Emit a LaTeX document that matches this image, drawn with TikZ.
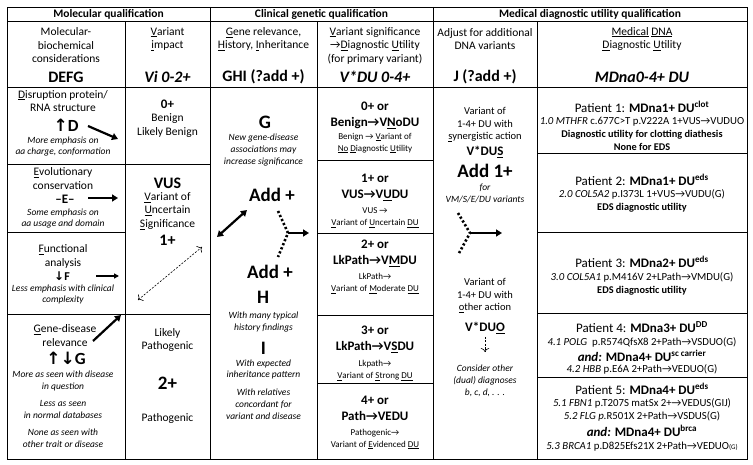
\documentclass[tikz,border=0pt]{standalone}
\usepackage{fontspec}
\setmainfont{Carlito}
\newfontfamily\symf{DejaVu Sans}
\usetikzlibrary{arrows.meta,positioning}
\newcommand\toar{→}
\newcommand\uparr{{\symf ↑}}
\newcommand\dnarr{{\symf ↓}}

\begin{document}
\begin{tikzpicture}[x=1pt,y=-1pt,
  every node/.style={inner sep=0pt,align=center},
  txt/.style={font=\fontsize{11.5}{13.5}\selectfont},
  mid/.style={font=\fontsize{10.5}{12.5}\selectfont},
  sm/.style={font=\fontsize{9.5}{11.8}\selectfont\itshape},
  smr/.style={font=\fontsize{9}{12}\selectfont},
  det/.style={font=\fontsize{10.8}{12}\selectfont},
  detb/.style={font=\fontsize{10.3}{12}\selectfont\bfseries},
  pat/.style={font=\fontsize{13}{15}\selectfont},
  big/.style={font=\fontsize{16}{18}\selectfont\bfseries},
  huge/.style={font=\fontsize{19}{21}\selectfont\bfseries},
  bold/.style={font=\fontsize{13}{16}\selectfont\bfseries},
  ttl/.style={font=\fontsize{11.5}{13.5}\selectfont\bfseries},
  tabline/.style={line width=0.7pt},
  fat/.style={line width=2.2pt,-{Triangle[length=6pt,width=7pt]}},
  dotline/.style={line width=2.6pt,dash pattern=on 2.2pt off 2.2pt},
  thindash/.style={line width=0.6pt,dash pattern=on 2pt off 1.5pt},
]
\useasboundingbox (0,0) rectangle (753,465);

% table rules
\draw[tabline] (7,7) rectangle (747,459);
\draw[tabline] (7,21.5) -- (747,21.5);
\draw[tabline] (7,87) -- (747,87);
\draw[tabline] (210,7) -- (210,459);
\draw[tabline] (433,7) -- (433,459);
\foreach \x in {125,317,537}
  \draw[tabline] (\x,21.5) -- (\x,459);
\draw[tabline] (7,164) -- (210,164);
\draw[tabline] (7,314) -- (210,314);
\draw[tabline] (7,232) -- (125,232);
\foreach \y in {160,233,315,383}
  \draw[tabline] (317,\y) -- (433,\y);
\foreach \y in {153,232,313,377}
  \draw[tabline] (537,\y) -- (747,\y);

% section titles
\node[ttl] (molq) at (108.5,14.5) {Molecular qualification};
\node[ttl] (clinq) at (321.5,14.5) {Clinical genetic qualification};
\node[ttl] (medq) at (590,14.5) {Medical diagnostic utility qualification};

% column heads
\node[txt] (hdefg) at (66,45.5) {Molecular-\\biochemical\\considerations};
\node[big] (defg) at (66,77) {DEFG};
\node[txt] (hvi) at (167.5,39) {\underline{V}ariant\\\underline{i}mpact};
\node[big] (vi) at (167.5,77) {\itshape Vi 0-2+};
\node[txt] (hghi) at (263.5,39) {\underline{G}ene relevance,\\\underline{H}istory, \underline{I}nheritance};
\node[big] (ghi) at (263.5,77) {GHI (?add +)};
\node[txt] (hvdu) at (375,45.5) {\underline{V}ariant significance\\\toar\underline{D}iagnostic \underline{U}tility\\(for primary variant)};
\node[big] (vdu) at (375,77) {\itshape V*DU 0-4+};
\node[txt] (hj) at (485,39) {Adjust for additional\\DNA variants};
\node[big] (j) at (485,77) {J (?add +)};
\node[txt] (hmdna) at (642,39) {\underline{Medical} \underline{DNA}\\\underline{D}iagnostic \underline{U}tility};
\node[big] (mdna) at (642,77) {\itshape MDna0-4+ DU};

% molecular-biochemical column
\node[txt] (dis) at (63,101) {\underline{D}isruption protein/\\RNA structure};
\node[huge,font=\fontsize{17}{19}\selectfont\bfseries] (dd) at (66,125) {\uparr D};
\node[sm] (dnote) at (63,146.5) {More emphasis on\\aa charge, conformation};
\node[txt] (evo) at (63,178.5) {\underline{E}volutionary\\conservation};
\node[bold] (ee) at (65,199) {–E–};
\node[sm] (enote) at (63,218.5) {Some emphasis on\\aa usage and domain};
\node[txt] (fun) at (63,256.5) {\underline{F}unctional\\analysis};
\node[bold,font=\fontsize{12}{14}\selectfont\bfseries] (ff) at (62,276) {\dnarr F};
\node[sm] (fnote) at (63,294.5) {Less emphasis with clinical\\complexity};
\node[txt] (gen) at (65,335.5) {\underline{G}ene-disease\\relevance};
\node[huge,font=\fontsize{17}{19}\selectfont\bfseries] (gg) at (66,358) {\uparr\dnarr G};
\node[sm] (gnote1) at (63,381) {More as seen with disease\\in question};
\node[sm] (gnote2) at (63,409.5) {Less as seen\\in normal databases};
\node[sm] (gnote3) at (63,438.5) {None as seen with\\other trait or disease};

% variant impact column
\node[bold] (v0) at (167.5,104) {0+};
\node[txt] (ben) at (167.5,125.5) {Benign\\Likely Benign};
\node[big] (vus) at (167.5,183) {VUS};
\node[txt] (vusl) at (167.5,211) {\underline{V}ariant of\\\underline{U}ncertain\\\underline{S}ignificance};
\node[big] (v1) at (167.5,240) {1+};
\node[txt] (lp) at (167.5,340) {Likely\\Pathogenic};
\node[huge] (v2) at (167.5,383) {2+};
\node[txt] (pa) at (167.5,418) {Pathogenic};

% gene / history / inheritance column
\node[huge] (g) at (265,122) {G};
\node[sm] (gtxt) at (263.5,150) {New gene-disease\\associations may\\increase significance};
\node[huge] (addg) at (272,195) {Add +};
\node[huge] (addh) at (270,272) {Add +};
\node[huge] (h) at (263,297) {H};
\node[sm] (htxt) at (263.5,322) {With many typical\\history findings};
\node[huge] (i) at (263.5,348) {I};
\node[sm] (itxt1) at (263.5,369.5) {With expected\\inheritance pattern};
\node[sm] (itxt2) at (263.5,404) {With relatives\\concordant for\\variant and disease};

% variant significance column
\node[bold] (du0) at (375,115.5) {0+ or\\Benign\toar V\underline{N}oDU};
\node[smr] (du0s) at (375,143) {Benign \toar\ \underline{V}ariant of\\\underline{No} \underline{D}iagnostic \underline{U}tility};
\node[bold] (du1) at (375,187.5) {1+ or\\VUS\toar V\underline{U}DU};
\node[smr] (du1s) at (375,217.5) {VUS \toar\\\underline{V}ariant of \underline{U}ncertain \underline{DU}};
\node[bold] (du2) at (375,253.5) {2+ or\\LkPath\toar V\underline{M}DU};
\node[smr] (du2s) at (375,283.5) {LkPath\toar\\\underline{V}ariant of \underline{M}oderate \underline{DU}};
\node[bold] (du3) at (375,339) {3+ or\\LkPath\toar V\underline{S}DU};
\node[smr] (du3s) at (375,370.5) {Lkpath\toar\\\underline{V}ariant of \underline{S}trong \underline{DU}};
\node[bold] (du4) at (375,408.5) {4+ or\\Path\toar VEDU};
\node[smr] (du4s) at (375,439) {Pathogenic\toar\\Variant of \underline{E}videnced \underline{DU}};

% additional variants column
\node[mid] (syn) at (485,124.5) {Variant of\\1-4+ DU with\\\underline{s}ynergistic action};
\node[bold] (vdus) at (485,152) {V*DU\underline{S}};
\node[huge] (add1) at (485,171) {Add 1+};
\node[sm] (fortxt) at (485,193.5) {for\\VM/S/E/DU variants};
\node[mid] (oth) at (485,295.5) {Variant of\\1-4+ DU with\\\underline{o}ther action};
\node[bold] (vduo) at (485,328) {V*DU\underline{O}};
\node[sm] (cons) at (485,381) {Consider other\\(dual) diagnoses\\b, c, d, . . .};

% medical DNA diagnostic utility column
\node[pat] (p1) at (642,107) {Patient 1: \textbf{MDna1+ DU\textsuperscript{clot}}};
\node[det] (p1a) at (642,122) {\textit{1.0 MTHFR} c.677C>T p.V222A 1+VUS\toar VUDUO};
\node[detb] (p1b) at (642,135) {Diagnostic utility for clotting diathesis};
\node[detb] (p1c) at (642,147) {None for EDS};
\node[pat] (p2) at (642,180) {Patient 2: \textbf{MDna1+ DU\textsuperscript{eds}}};
\node[det] (p2a) at (642,194.5) {\textit{2.0 COL5A2} p.I373L 1+VUS\toar VUDU(G)};
\node[detb] (p2b) at (642,208) {EDS diagnostic utility};
\node[pat] (p3) at (642,262) {Patient 3: \textbf{MDna2+ DU\textsuperscript{eds}}};
\node[det] (p3a) at (642,277) {\textit{3.0 COL5A1} p.M416V 2+LPath\toar VMDU(G)};
\node[detb] (p3b) at (642,290.5) {EDS diagnostic utility};
\node[pat] (p4) at (642,327) {Patient 4: \textbf{MDna3+ DU\textsuperscript{DD}}};
\node[det] (p4a) at (642,342) {\textit{4.1 POLG}~~p.R574QfsX8 2+Path\toar VSDUO(G)};
\node[pat] (p4c) at (642,356) {\textbf{\textit{and:} MDna4+ DU\textsuperscript{sc carrier}}};
\node[det] (p4b) at (642,369.5) {\textit{4.2 HBB} p.E6A 2+Path\toar VEDUO(G)};
\node[pat] (p5) at (642,389) {Patient 5: \textbf{MDna4+ DU\textsuperscript{eds}}};
\node[det] (p5a) at (642,403) {\textit{5.1 FBN1} p.T207S matSx 2+\toar VEDUS(GIJ)};
\node[det] (p5b) at (642,416.5) {\textit{5.2 FLG p.}R501X 2+Path\toar VSDUS(G)};
\node[pat] (p5c) at (642,431) {\textbf{\textit{and:} MDna4+ DU\textsuperscript{brca}}};
\node[det] (p5d) at (642,447) {\textit{5.3 BRCA1} p.D825Efs21X 2+Path\toar VEDUO{\scriptsize(G)}};

% arrows
\coordinate (da) at (88,126);  \coordinate (db) at (118,139);
\coordinate (ea) at (88,198);  \coordinate (eb) at (118,198);
\coordinate (fa) at (96,276);  \coordinate (fb) at (119,276);
\coordinate (ga) at (93,341);  \coordinate (gb) at (121,315);
\draw[fat] (da) -- (db);
\draw[fat,line width=1.8pt] (ea) -- (eb);
\draw[fat,line width=1.3pt,-{Triangle[length=5pt,width=5pt]}] (fa) -- (fb);
\draw[fat] (ga) -- (gb);
\coordinate (va) at (138,300); \coordinate (vb) at (202,247);
\draw[thindash,{To[length=4pt]}-{To[length=4pt]}] (va) -- (vb);

\coordinate (ha) at (217,237); \coordinate (hb) at (247,210);
\draw[fat,{Triangle[length=6pt,width=7pt]}-{Triangle[length=6pt,width=7pt]}] (ha) -- (hb);
\coordinate (kt) at (278,211); \coordinate (km) at (288,233); \coordinate (kb) at (278,257);
\coordinate (ke) at (309,233);
\draw[dotline] (kt) -- (km) -- (kb);
\draw[fat] (km) -- (ke);

\coordinate (jt) at (458,213); \coordinate (jm) at (470,233); \coordinate (jb) at (458,255);
\coordinate (je) at (502,233);
\draw[dotline] (jt) -- (jm) -- (jb);
\draw[fat] (jm) -- (je);
\coordinate (oe) at (485,352);
\draw[thindash,-{To[length=4pt]}] (vduo) ++(0,9) -- (oe);
\end{tikzpicture}
\end{document}
